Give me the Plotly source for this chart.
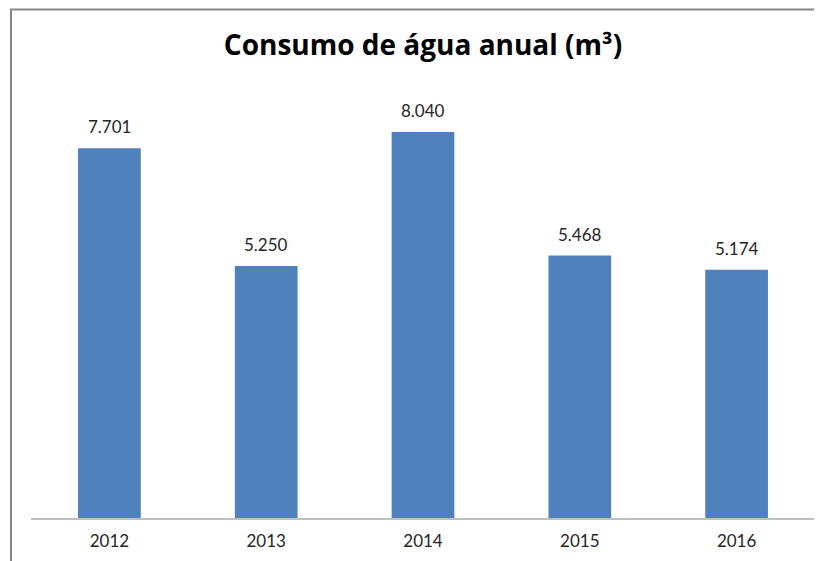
import plotly.graph_objects as go

years = ["2012", "2013", "2014", "2015", "2016"]
consumo = [7701, 5250, 8040, 5468, 5174]
title_text = "Consumo de água anual (m³)"

fig = go.Figure(go.Bar(
    x=years, y=consumo,
    marker=dict(color="#4F81BD", line=dict(width=0)),
    width=0.40,
    cliponaxis=False,
))

labels = [f"{v:,}".replace(",", ".") for v in consumo]
for i, (v, lab) in enumerate(zip(consumo, labels)):
    fig.add_annotation(x=i, y=v, text=lab, showarrow=False, yanchor="bottom", yshift=9,
                       font=dict(family="Lato, Open Sans, sans-serif", size=17, color="#262626"))

fig.update_layout(
    width=814, height=553,
    margin=dict(l=23, r=7, t=78, b=43),
    paper_bgcolor="white", plot_bgcolor="white",
    showlegend=False,
    title=dict(text="<b>" + title_text + "</b>", x=0.5, xref="paper", xanchor="center",
               y=1 - 37 / 553, yref="container", yanchor="middle",
               font=dict(family="Open Sans, sans-serif", size=28, color="black")),
    bargap=0.6,
    xaxis=dict(type="category", range=[-0.5, 4.5], showline=True, linecolor="#BFBFBF",
               linewidth=1.5, ticks="outside", ticklen=7, tickcolor="rgba(0,0,0,0)",
               tickfont=dict(family="Lato, Open Sans, sans-serif", size=17, color="#262626"),
               showgrid=False, zeroline=False),
    yaxis=dict(range=[0, 9000], visible=False, showgrid=False, zeroline=False),
    shapes=[dict(type="rect", xref="paper", yref="paper", x0=-0.0255, x1=1.2, y0=-0.3, y1=1.177,
                 line=dict(color="#868686", width=2), fillcolor="rgba(0,0,0,0)", layer="below")],
)

fig.write_html("out.html")
